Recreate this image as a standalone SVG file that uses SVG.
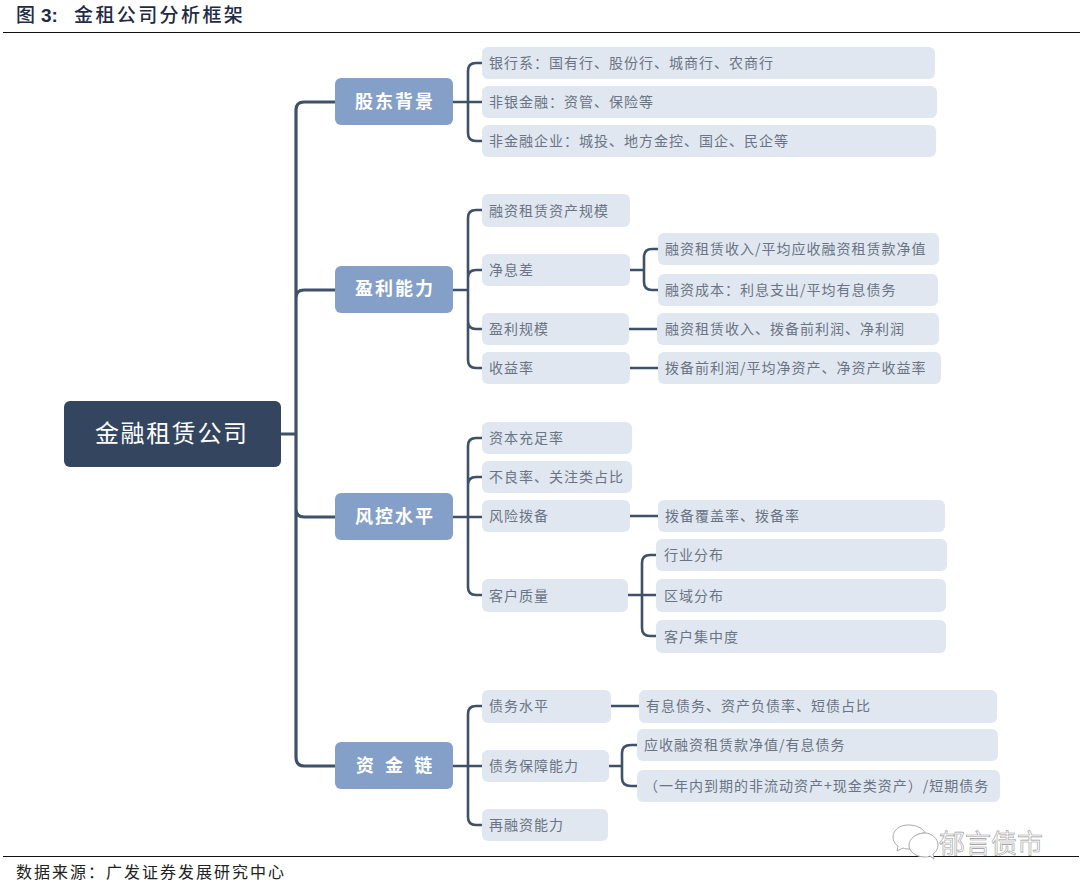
<svg xmlns="http://www.w3.org/2000/svg" width="1080" height="891" viewBox="0 0 1080 891">
<style>
text{font-family:"Noto Sans CJK SC","Noto Sans",sans-serif}
.c{fill:none;stroke:#3f5069;stroke-width:2.6;stroke-linecap:butt}
.t{stroke-width:3.2}
.b2{fill:#e1e7f0}
.b1{fill:#84a0c8}
.x2{font-size:14px;letter-spacing:1px;fill:#6a7484}
.x1{font-size:18px;letter-spacing:2px;fill:#fff;font-weight:700}
.rule{stroke:#111;stroke-width:1}
</style>
<rect width="1080" height="891" fill="#fff"/>
<text x="16" y="22" font-size="19" font-weight="500" fill="#1f2b45">图</text>
<text x="41" y="22" font-size="19" font-weight="700" fill="#1f2b45" style="font-family:'Liberation Sans',sans-serif">3:</text>
<text x="74" y="22" font-size="19" letter-spacing="2.4" font-weight="500" fill="#1f2b45">金租公司分析框架</text>
<line class="rule" x1="3" y1="32.5" x2="1080" y2="32.5"/>
<line class="rule" x1="3" y1="856.5" x2="1079" y2="856.5"/>
<g id="connectors">
<path class="c t" d="M281 434H296M335 102H304Q296 102 296 110V757Q296 766 304 766H335M335 290H304Q296 290 296 298M296 509Q296 517 304 517H335"/>
<path class="c" d="M453 102H482M482 63H476Q468 63 468 71V133Q468 141 476 141H482"/>
<path class="c" d="M453 290H468M482 210H476Q468 210 468 218V360Q468 368 476 368H482M482 270H476Q468 270 468 278M468 321Q468 329 476 329H482"/>
<path class="c" d="M453 517H482M482 438H476Q468 438 468 446V587Q468 595 476 595H482M482 477H476Q468 477 468 485"/>
<path class="c" d="M453 766H482M482 706H476Q468 706 468 714V817Q468 825 476 825H482"/>
<path class="c" d="M630 270H644M658 249H652Q644 249 644 257V282Q644 290 652 290H658"/>
<path class="c" d="M629 329H657M630 368H658M630 516H658M611 706H639"/>
<path class="c" d="M628 595H656M656 555H650Q642 555 642 563V628Q642 636 650 636H656"/>
<path class="c" d="M609 766H622M637 745H631Q622 745 622 753V778Q622 786 631 786H637"/>
</g>
<g id="root"><rect x="64" y="401" width="217" height="66" rx="6" fill="#34465f"/><text x="95" y="442" font-size="24" letter-spacing="1.6" fill="#fff">金融租赁公司</text></g>
<g id="l1-shareholder"><rect class="b1" x="335" y="78" width="118" height="47" rx="6"/><text class="x1" x="355" y="108">股东背景</text></g>
<g id="l1-profit"><rect class="b1" x="335" y="266" width="118" height="47" rx="6"/><text class="x1" x="355" y="295">盈利能力</text></g>
<g id="l1-risk"><rect class="b1" x="335" y="493" width="118" height="47" rx="6"/><text class="x1" x="355" y="523">风控水平</text></g>
<g id="l1-fund"><rect class="b1" x="335" y="742" width="118" height="47" rx="6"/><text class="x1" x="356" y="772" word-spacing="3">资 金 链</text></g>
<g id="n1"><rect class="b2" x="482" y="47" width="453" height="32" rx="6"/><text class="x2" x="489" y="68">银行系&#xFF1A;国有行、股份行、城商行、农商行</text></g>
<g id="n2"><rect class="b2" x="482" y="86" width="455" height="32" rx="6"/><text class="x2" x="489" y="107">非银金融&#xFF1A;资管、保险等</text></g>
<g id="n3"><rect class="b2" x="482" y="125" width="454" height="32" rx="6"/><text class="x2" x="489" y="146">非金融企业&#xFF1A;城投、地方金控、国企、民企等</text></g>
<g id="n4"><rect class="b2" x="482" y="194" width="148" height="33" rx="6"/><text class="x2" x="489" y="216">融资租赁资产规模</text></g>
<g id="n5"><rect class="b2" x="482" y="254" width="148" height="32" rx="6"/><text class="x2" x="489" y="275">净息差</text></g>
<g id="n6"><rect class="b2" x="482" y="313" width="147" height="32" rx="6"/><text class="x2" x="489" y="334">盈利规模</text></g>
<g id="n7"><rect class="b2" x="482" y="352" width="148" height="32" rx="6"/><text class="x2" x="489" y="373">收益率</text></g>
<g id="n8"><rect class="b2" x="658" y="233" width="281" height="32" rx="6"/><text class="x2" x="665" y="254">融资租赁收入/平均应收融资租赁款净值</text></g>
<g id="n9"><rect class="b2" x="658" y="274" width="280" height="32" rx="6"/><text class="x2" x="665" y="295">融资成本&#xFF1A;利息支出/平均有息债务</text></g>
<g id="n10"><rect class="b2" x="657" y="313" width="282" height="32" rx="6"/><text class="x2" x="665" y="334">融资租赁收入、拨备前利润、净利润</text></g>
<g id="n11"><rect class="b2" x="658" y="352" width="283" height="32" rx="6"/><text class="x2" x="665" y="373">拨备前利润/平均净资产、净资产收益率</text></g>
<g id="n12"><rect class="b2" x="482" y="422" width="150" height="32" rx="6"/><text class="x2" x="489" y="443">资本充足率</text></g>
<g id="n13"><rect class="b2" x="482" y="461" width="150" height="32" rx="6"/><text class="x2" x="489" y="482">不良率、关注类占比</text></g>
<g id="n14"><rect class="b2" x="482" y="500" width="148" height="32" rx="6"/><text class="x2" x="489" y="521">风险拨备</text></g>
<g id="n15"><rect class="b2" x="482" y="579" width="146" height="33" rx="6"/><text class="x2" x="489" y="601">客户质量</text></g>
<g id="n16"><rect class="b2" x="658" y="500" width="287" height="32" rx="6"/><text class="x2" x="665" y="521">拨备覆盖率、拨备率</text></g>
<g id="n17"><rect class="b2" x="656" y="539" width="291" height="32" rx="6"/><text class="x2" x="664" y="560">行业分布</text></g>
<g id="n18"><rect class="b2" x="656" y="579" width="290" height="33" rx="6"/><text class="x2" x="664" y="601">区域分布</text></g>
<g id="n19"><rect class="b2" x="656" y="620" width="290" height="33" rx="6"/><text class="x2" x="664" y="642">客户集中度</text></g>
<g id="n20"><rect class="b2" x="482" y="690" width="129" height="33" rx="6"/><text class="x2" x="489" y="711">债务水平</text></g>
<g id="n21"><rect class="b2" x="482" y="750" width="127" height="32" rx="6"/><text class="x2" x="489" y="771">债务保障能力</text></g>
<g id="n22"><rect class="b2" x="482" y="809" width="126" height="32" rx="6"/><text class="x2" x="489" y="830">再融资能力</text></g>
<g id="n23"><rect class="b2" x="639" y="690" width="358" height="33" rx="6"/><text class="x2" x="646" y="711">有息债务、资产负债率、短债占比</text></g>
<g id="n24"><rect class="b2" x="637" y="729" width="361" height="32" rx="6"/><text class="x2" x="644" y="750">应收融资租赁款净值/有息债务</text></g>
<g id="n25"><rect class="b2" x="637" y="770" width="363" height="32" rx="6"/><text class="x2" x="644" y="791">&#xFF08;一年内到期的非流动资产+现金类资产&#xFF09;/短期债务</text></g>
<text x="16" y="878" font-size="16" letter-spacing="2" fill="#222">数据来源&#xFF1A;广发证券发展研究中心</text>
<g id="watermark" fill="#fff" stroke="#aaa" stroke-width="1">
<path d="M908 825C900 825 893 830 893 837C893 841 895 844 898 846L897 851L903 848C905 849 907 849 910 849C909 839 916 833 925 833C923 828 916 825 908 825Z"/>
<path d="M925 833C916 833 909 839 909 845C909 852 916 857 925 857C927 857 928 857 930 856L934 859L933 854C936 852 938 849 938 845C938 839 932 833 925 833Z"/>
<text x="939" y="853" font-size="26" stroke-width=".6" stroke="#999">郁言债市</text>
</g>
</svg>
